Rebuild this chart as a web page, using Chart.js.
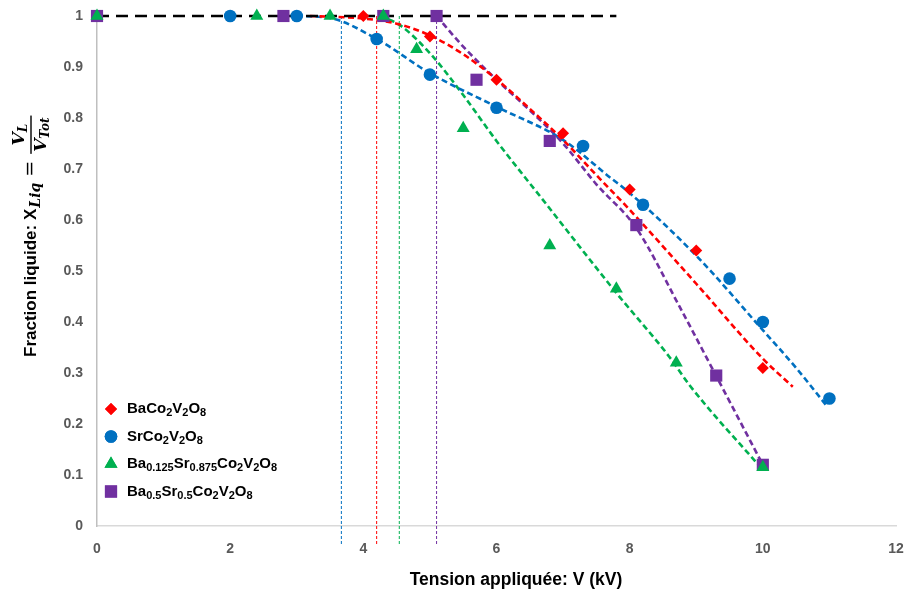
<!DOCTYPE html>
<html>
<head>
<meta charset="utf-8">
<script src="https://cdn.jsdelivr.net/npm/chart.js@4.4.1/dist/chart.umd.min.js"></script>
<style>
  html, body { margin: 0; padding: 0; background: #ffffff; }
  #wrap { width: 905px; height: 594px; position: relative; }
</style>
</head>
<body>
<div id="wrap"><canvas id="c" width="905" height="594"></canvas></div>
<script>
// ---------- DATA ----------
const xTickValues = [0, 2, 4, 6, 8, 10, 12];
const yTickValues = [0, 0.1, 0.2, 0.3, 0.4, 0.5, 0.6, 0.7, 0.8, 0.9, 1];
const yTickLabels = ["0", "0.1", "0.2", "0.3", "0.4", "0.5", "0.6", "0.7", "0.8", "0.9", "1"];

const seriesLabels = ["BaCo_{2}V_{2}O_{8}", "SrCo_{2}V_{2}O_{8}", "Ba_{0.125}Sr_{0.875}Co_{2}V_{2}O_{8}", "Ba_{0.5}Sr_{0.5}Co_{2}V_{2}O_{8}"];
const seriesColors = ["#FF0000", "#0070C0", "#00B050", "#7030A0"];

// measured points
const baX = [4.0, 5.0, 6.0, 7.0, 8.0, 9.0, 10.0];
const baY = [1.0, 0.96, 0.875, 0.77, 0.66, 0.54, 0.31];
const srX = [2.0, 3.0, 4.2, 5.0, 6.0, 7.3, 8.2, 9.5, 10.0, 11.0];
const srY = [1.0, 1.0, 0.955, 0.885, 0.82, 0.745, 0.63, 0.485, 0.40, 0.25];
const mixAX = [0, 2.4, 3.5, 4.3, 4.8, 5.5, 6.8, 7.8, 8.7, 10.0];
const mixAY = [1.0, 1.0, 1.0, 1.0, 0.935, 0.78, 0.55, 0.465, 0.32, 0.115];
const mixBX = [0, 2.8, 4.3, 5.1, 5.7, 6.8, 8.1, 9.3, 10.0];
const mixBY = [1.0, 1.0, 1.0, 1.0, 0.875, 0.755, 0.59, 0.295, 0.12];

// dashed trend curves
const baFitX = [3.2, 4.0, 4.5, 5.0, 5.5, 6.0, 6.5, 7.0, 7.5, 8.0, 9.0, 10.0, 10.45];
const baFitY = [1.0, 0.995, 0.985, 0.962, 0.925, 0.876, 0.818, 0.757, 0.688, 0.62, 0.475, 0.328, 0.273];
const srFitX = [3.0, 3.5, 4.2, 5.0, 6.0, 7.0, 7.7, 8.0, 9.0, 10.0, 10.5, 10.95];
const srFitY = [1.0, 0.996, 0.955, 0.888, 0.822, 0.757, 0.684, 0.653, 0.53, 0.384, 0.31, 0.237];
const mixAFitX = [4.25, 4.55, 5.0, 5.5, 6.0, 6.7, 7.8, 8.6, 8.9, 10.0];
const mixAFitY = [1.0, 0.982, 0.927, 0.845, 0.755, 0.639, 0.457, 0.331, 0.276, 0.11];
const mixBFitX = [5.1, 5.5, 6.0, 6.5, 7.0, 7.5, 8.1, 8.75, 9.3, 10.0];
const mixBFitY = [1.0, 0.94, 0.875, 0.815, 0.75, 0.67, 0.584, 0.43, 0.294, 0.12];

// horizontal reference line at X = 1
const refX = [0, 7.8];
const refY = [1, 1];

// vertical markers (onset voltage for each sample)
const onsetX = [4.2, 3.67, 4.54, 5.1];
const onsetTopY = 1.0;
const onsetBottomY = -0.037;

// ---------- helpers ----------
const pts = (xs, ys) => xs.map((x, i) => ({ x: x, y: ys[i] }));

const markerStyles = ["rectRot", "circle", "triangle", "rect"];
const markerRadius = [6, 6.3, 7.5, 8.6];

const datasets = [];
const measured = [[baX, baY], [srX, srY], [mixAX, mixAY], [mixBX, mixBY]];
measured.forEach((m, i) => {
  datasets.push({
    label: seriesLabels[i],
    data: pts(m[0], m[1]),
    showLine: false,
    pointStyle: markerStyles[i],
    pointRadius: markerRadius[i],
    pointHoverRadius: markerRadius[i],
    backgroundColor: seriesColors[i],
    borderColor: seriesColors[i],
    pointBorderWidth: 0,
    clip: false,
    order: 0
  });
});
const fits = [[baFitX, baFitY], [srFitX, srFitY], [mixAFitX, mixAFitY], [mixBFitX, mixBFitY]];
fits.forEach((f, i) => {
  datasets.push({
    label: "fit " + i,
    data: pts(f[0], f[1]),
    showLine: true,
    pointRadius: 0,
    borderColor: seriesColors[i],
    borderWidth: 2.6,
    borderDash: [6, 3.5],
    cubicInterpolationMode: "monotone",
    fill: false,
    clip: false,
    order: 2
  });
});
datasets.push({
  label: "ref",
  data: pts(refX, refY),
  showLine: true,
  pointRadius: 0,
  borderColor: "#000000",
  borderWidth: 2.6,
  borderDash: [12, 7],
  clip: false,
  order: 1
});
onsetX.forEach((x, i) => {
  datasets.push({
    label: "onset " + i,
    data: [{ x: x, y: onsetTopY }, { x: x, y: onsetBottomY }],
    showLine: true,
    pointRadius: 0,
    borderColor: seriesColors[i],
    borderWidth: 1,
    borderDash: [3, 2],
    clip: false,
    order: 3
  });
});

// draw a string with _{sub} markup
function drawRich(ctx, str, x, y, baseFont, subFont, subShift) {
  const parts = [];
  const re = /_\{([^}]*)\}/g;
  let last = 0, m;
  while ((m = re.exec(str)) !== null) {
    if (m.index > last) parts.push({ t: str.slice(last, m.index), sub: false });
    parts.push({ t: m[1], sub: true });
    last = re.lastIndex;
  }
  if (last < str.length) parts.push({ t: str.slice(last), sub: false });
  let cx = x;
  parts.forEach(p => {
    ctx.font = p.sub ? subFont : baseFont;
    ctx.fillText(p.t, cx, p.sub ? y + subShift : y);
    cx += ctx.measureText(p.t).width;
  });
  return cx;
}

const decorPlugin = {
  id: "decor",
  beforeDraw(chart) {
    const ctx = chart.ctx;
    ctx.save();
    ctx.fillStyle = "#ffffff";
    ctx.fillRect(0, 0, chart.width, chart.height);
    ctx.restore();
  },
  afterDraw(chart) {
    const ctx = chart.ctx;
    ctx.save();
    // ----- legend (inside plot, lower-left) -----
    const legendY0 = 409, legendStep = 27.5, markerX = 111, textX = 127;
    seriesLabels.forEach((lab, i) => {
      const y = legendY0 + i * legendStep;
      ctx.fillStyle = seriesColors[i];
      ctx.strokeStyle = seriesColors[i];
      Chart.helpers.drawPoint(ctx, { pointStyle: markerStyles[i], radius: markerRadius[i], borderWidth: 0 }, markerX, y);
      ctx.fill();
      ctx.fillStyle = "#000000";
      ctx.textBaseline = "middle";
      ctx.textAlign = "left";
      drawRich(ctx, lab, textX, y, "bold 15px 'Liberation Sans', Arial, sans-serif", "bold 11px 'Liberation Sans', Arial, sans-serif", 4);
    });

    // ----- x axis title -----
    ctx.fillStyle = "#000000";
    ctx.font = "bold 17.5px 'Liberation Sans', Arial, sans-serif";
    ctx.textAlign = "center";
    ctx.textBaseline = "middle";
    ctx.fillText("Tension appliquée: V (kV)", 516, 580);

    // ----- y axis title (rotated) -----
    ctx.translate(31, 357);
    ctx.rotate(-Math.PI / 2);
    ctx.textAlign = "left";
    ctx.textBaseline = "middle";
    let cx = 0;
    ctx.font = "bold 17px 'Liberation Sans', Arial, sans-serif";
    const t1 = "Fraction liquide: X";
    ctx.fillText(t1, cx, 0);
    cx += ctx.measureText(t1).width;
    ctx.font = "italic bold 14px 'DejaVu Serif', serif";
    ctx.fillText("Liq", cx + 1, 5);
    cx += ctx.measureText("Liq").width + 7;
    ctx.font = "19px 'DejaVu Serif', serif";
    ctx.fillText("=", cx, 0);
    cx += ctx.measureText("=").width + 7;
    // fraction
    const numFont = "italic bold 17px 'DejaVu Serif', serif";
    const subF = "italic bold 12px 'DejaVu Serif', serif";
    ctx.font = numFont;
    const wV = ctx.measureText("V").width;
    ctx.font = subF;
    const wL = ctx.measureText("L").width;
    const wTot = ctx.measureText("Tot").width;
    const numW = wV + wL;
    const denW = wV + wTot;
    const fracW = Math.max(numW, denW) + 4;
    ctx.fillRect(cx, -0.7, fracW, 1.4);
    drawRich(ctx, "V_{L}", cx + (fracW - numW) / 2, -11, numFont, subF, 4);
    drawRich(ctx, "V_{Tot}", cx + (fracW - denW) / 2, 11, numFont, subF, 4);
    ctx.restore();
  }
};

const tickFont = { family: "'Liberation Sans', Arial, sans-serif", size: 14, weight: "bold" };
const noPad = s => { s.paddingTop = 0; s.paddingBottom = 0; s.paddingLeft = 0; s.paddingRight = 0; };

new Chart(document.getElementById("c"), {
  type: "scatter",
  data: { datasets: datasets },
  options: {
    responsive: false,
    animation: false,
    layout: { padding: { top: 16, right: 9, left: 0, bottom: 0 } },
    plugins: {
      legend: { display: false },
      tooltip: { enabled: false }
    },
    scales: {
      x: {
        type: "linear",
        min: 0,
        max: 12,
        afterBuildTicks: s => { s.ticks = xTickValues.map(v => ({ value: v })); },
        afterFit: s => { s.height = 68; noPad(s); },
        grid: { display: false, drawTicks: false },
        border: { display: true, color: "#D9D9D9", width: 1.5 },
        ticks: { color: "#595959", font: tickFont, padding: 15, maxRotation: 0 }
      },
      y: {
        type: "linear",
        min: 0,
        max: 1,
        afterBuildTicks: s => { s.ticks = yTickValues.map(v => ({ value: v })); },
        afterFit: s => { s.width = 97; noPad(s); },
        grid: { display: false, drawTicks: false },
        border: { display: true, color: "#BFBFBF", width: 1.5 },
        ticks: {
          color: "#595959", font: tickFont, padding: 14,
          callback: (v) => { const k = yTickValues.findIndex(t => Math.abs(t - v) < 1e-9); return k >= 0 ? yTickLabels[k] : ""; }
        }
      }
    }
  },
  plugins: [decorPlugin]
});
</script>
</body>
</html>
